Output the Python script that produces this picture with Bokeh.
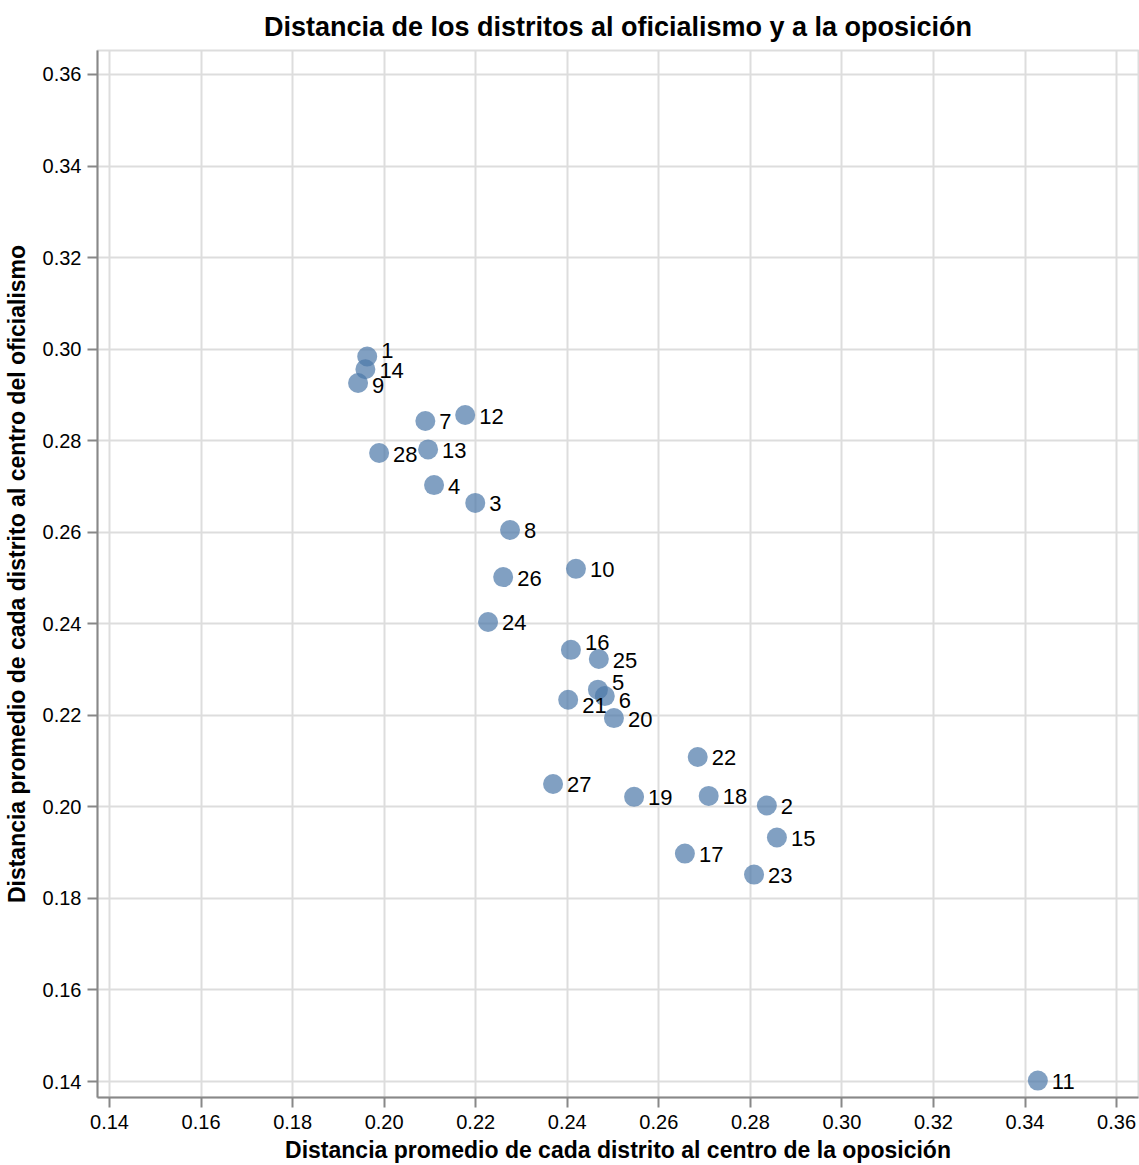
from bokeh.plotting import figure
from bokeh.models import ColumnDataSource, Range1d, FixedTicker, PrintfTickFormatter
from bokeh.core.properties import value
from bokeh.embed import file_html
from bokeh.resources import INLINE

# District ids and their distances
districts = [str(i) for i in range(1, 29)]
dist_oposicion = [0.1963, 0.2836, 0.2199, 0.2109, 0.2467, 0.2482, 0.2090, 0.2275,
                  0.1943, 0.2419, 0.3428, 0.2177, 0.2096, 0.1959, 0.2858, 0.2408,
                  0.2657, 0.2709, 0.2546, 0.2502, 0.2402, 0.2685, 0.2808, 0.2227,
                  0.2469, 0.2260, 0.2369, 0.1989]
dist_oficialismo = [0.2984, 0.2003, 0.2664, 0.2703, 0.2256, 0.2242, 0.2843, 0.2605,
                    0.2926, 0.2520, 0.1402, 0.2856, 0.2781, 0.2956, 0.1933, 0.2343,
                    0.1898, 0.2024, 0.2022, 0.2194, 0.2234, 0.2109, 0.1852, 0.2404,
                    0.2323, 0.2502, 0.2050, 0.2773]
tick_values = [0.14, 0.16, 0.18, 0.20, 0.22, 0.24, 0.26, 0.28, 0.30, 0.32, 0.34, 0.36]

# label nudges (screen px, styling only)
label_dy = {"1": -6, "16": -7, "5": -7, "21": 6, "6": 4, "9": 2}

FONT = "Liberation Sans"

src = ColumnDataSource(dict(
    x=dist_oposicion, y=dist_oficialismo, label=districts,
    dy=[label_dy.get(d, 1) for d in districts],
))

p = figure(width=1139, height=1165, output_backend="svg", toolbar_location=None,
           x_range=Range1d(0.13738, 0.36479), y_range=Range1d(0.13651, 0.36524),
           min_border_left=96, min_border_right=1, min_border_top=50, min_border_bottom=67,
           title="Distancia de los distritos al oficialismo y a la oposición")

p.title.text_font = FONT
p.title.text_font_size = "27px"
p.title.text_font_style = "bold"
p.title.align = "center"
p.title.vertical_align = "top"
p.title.text_color = "#000000"
p.title.standoff = 14
p.title.offset = 0

p.outline_line_color = "#dddddd"
p.outline_line_width = 2
p.background_fill_color = "white"
p.border_fill_color = "white"

for ax, lab in ((p.xaxis, "Distancia promedio de cada distrito al centro de la oposición"),
                (p.yaxis, "Distancia promedio de cada distrito al centro del oficialismo")):
    ax.ticker = FixedTicker(ticks=tick_values)
    ax.formatter = PrintfTickFormatter(format="%.2f")
    ax.axis_label = lab
    ax.axis_label_text_font = FONT
    ax.axis_label_text_font_size = "23px"
    ax.axis_label_text_font_style = "bold"
    ax.axis_label_text_color = "#000000"
    ax.major_label_text_font = FONT
    ax.major_label_text_font_size = "20px"
    ax.major_label_text_color = "#000000"
    ax.axis_line_color = "#888888"
    ax.axis_line_width = 2
    ax.major_tick_line_color = "#888888"
    ax.major_tick_line_width = 2
    ax.major_tick_out = 10
    ax.major_tick_in = 0
    ax.minor_tick_line_color = None

p.xaxis.major_label_standoff = 7
p.xaxis.axis_label_standoff = 5
p.yaxis.major_label_standoff = 6
p.yaxis.axis_label_standoff = 10

p.grid.grid_line_color = "#dddddd"
p.grid.grid_line_width = 2
p.xgrid.ticker = FixedTicker(ticks=tick_values)
p.ygrid.ticker = FixedTicker(ticks=tick_values)

p.scatter("x", "y", source=src, size=20, fill_color="#4c78a8", fill_alpha=0.7,
          line_color=None)
p.text("x", "y", text="label", source=src, x_offset=14, y_offset="dy",
       text_font=value(FONT), text_font_size="22px", text_baseline="middle",
       text_align="left", text_color="#000000")

open("out.html", "w").write(file_html(p, INLINE))
